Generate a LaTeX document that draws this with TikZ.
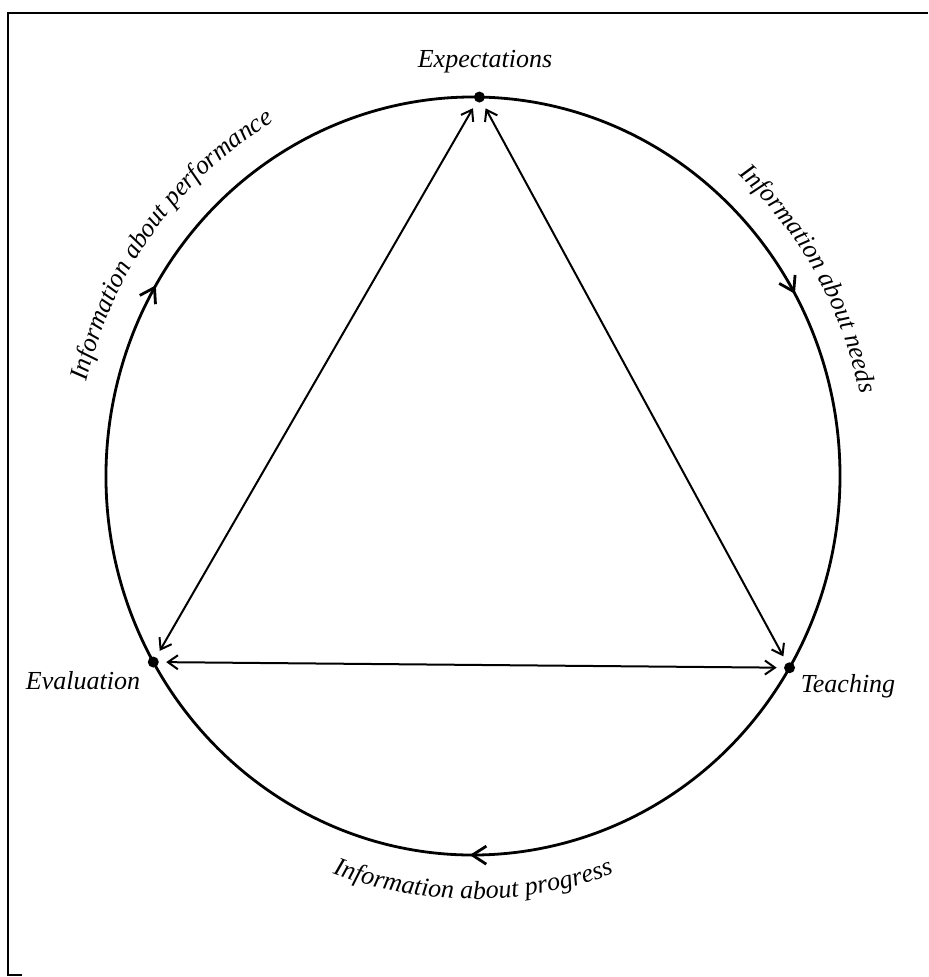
\documentclass[tikz,border=0pt]{standalone}
\usepackage{fontspec}
\setmainfont{Liberation Serif}
\usetikzlibrary{arrows.meta,decorations.markings,decorations.text}
\newcommand\labfont{\itshape\fontsize{13}{15}\selectfont}
\begin{document}
\begin{tikzpicture}[x=0.5pt,y=0.5pt,
  ring/.style={line width=1.4pt},
  tri/.style={line width=1pt,{Straight Barb[length=5pt,width=7pt]}-{Straight Barb[length=5pt,width=7pt]},shorten <=3.5pt,shorten >=3.5pt},
  dot/.style={circle,fill=black,inner sep=0pt,minimum size=5.5pt},
  lab/.style={font=\labfont},
  flow/.style={ring,postaction={decorate},decoration={markings,mark=at position 0.5 with {\arrow{Straight Barb[length=7pt,width=9pt]}}}},
  frame/.style={line width=1.2pt}]
\useasboundingbox (0,0) rectangle (928,977);
\coordinate (C) at (473,501);
\path (C) ++(89:367 and 379) node[dot] (ex) {};
\path (C) ++(209.4:367 and 379) node[dot] (ev) {};
\path (C) ++(329.6:367 and 379) node[dot] (te) {};
% frame
\draw[frame] (928,964) -- (8,964) -- (8,2) -- (22,2);
% circle arcs with flow arrows
\draw[flow] (ev.center) arc[start angle=209.4,end angle=89,x radius=367,y radius=379];
\draw[flow] (ex.center) arc[start angle=89,end angle=-30.4,x radius=367,y radius=379];
\draw[flow] (te.center) arc[start angle=329.6,end angle=209.4,x radius=367,y radius=379];
% triangle
\draw[tri] (ev) -- (ex);
\draw[tri] (ex) -- (te);
\draw[tri] (ev) -- (te);
% labels
\node[lab,anchor=base] (exl) at (485,909) {Expectations};
\node[lab,anchor=base] (evl) at (83,287) {Evaluation};
\node[lab,anchor=base] (tel) at (848,284) {Teaching};
% curved labels
\path[decorate,decoration={text along path,text align=center,text={|\labfont|Information about performance}}]
  (C) ++(194:397 and 409) arc[start angle=194,end angle=92,x radius=397,y radius=409];
\path[decorate,decoration={text along path,text align=center,text={|\labfont|Information about needs}}]
  (C) ++(74:395 and 407) arc[start angle=74,end angle=-14,x radius=395,y radius=407];
\path[decorate,decoration={text along path,text align=center,text={|\labfont|Information about progress}}]
  (C) ++(225:411 and 423) arc[start angle=225,end angle=315,x radius=411,y radius=423];
\end{tikzpicture}
\end{document}
